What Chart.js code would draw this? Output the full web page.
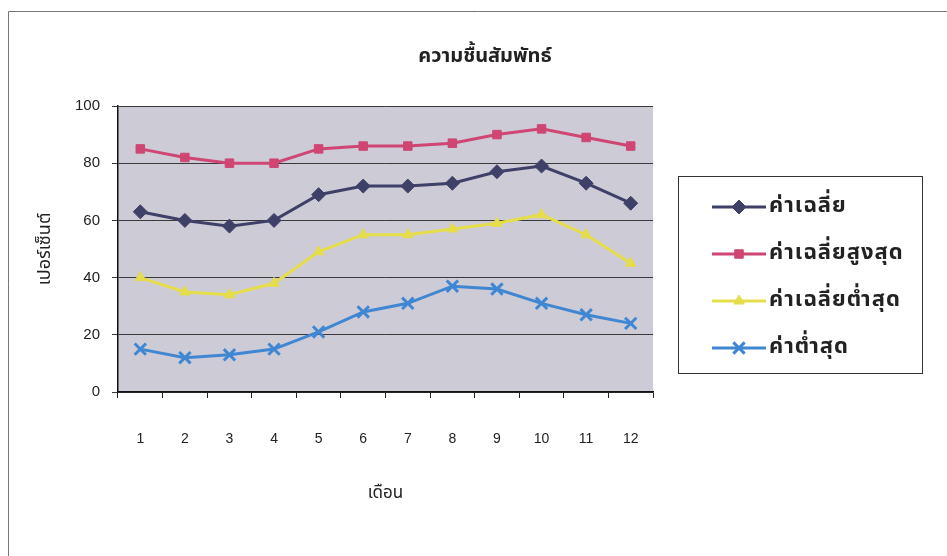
<!DOCTYPE html>
<html>
<head>
<meta charset="utf-8">
<script src="https://cdn.jsdelivr.net/npm/chart.js@4.4.1/dist/chart.umd.min.js"></script>
<style>
  html, body { margin: 0; padding: 0; background: #fff; }
  #wrap { width: 947px; height: 556px; }
</style>
</head>
<body>
<div id="wrap"><canvas id="chartCanvas" width="947" height="556"></canvas></div>
<script>
// --- Data ---
const months = ["1", "2", "3", "4", "5", "6", "7", "8", "9", "10", "11", "12"];
const avgValues    = [63, 60, 58, 60, 69, 72, 72, 73, 77, 79, 73, 66];
const maxAvgValues = [85, 82, 80, 80, 85, 86, 86, 87, 90, 92, 89, 86];
const minAvgValues = [40, 35, 34, 38, 49, 55, 55, 57, 59, 62, 55, 45];
const minValues    = [15, 12, 13, 15, 21, 28, 31, 37, 36, 31, 27, 24];
const seriesNames  = ["ค่าเฉลี่ย", "ค่าเฉลี่ยสูงสุด", "ค่าเฉลี่ยต่ำสุด", "ค่าต่ำสุด"];
const yTicks = [0, 20, 40, 60, 80, 100];

const chartTitle = "ความชื้นสัมพัทธ์";
const xTitle = "เดือน";
const yTitle = "เปอร์เซ็นต์";

const thaiFont = "'Noto Sans Thai', 'Noto Sans', 'DejaVu Sans', sans-serif";
const numFont = "'Liberation Sans', Arial, sans-serif";

const canvas = document.getElementById("chartCanvas");

function series(label, data, color, pointStyle, radius) {
  return {
    label,
    data,
    borderColor: color,
    backgroundColor: color,
    borderWidth: 3,
    pointStyle,
    pointRadius: radius,
    pointHoverRadius: radius,
    pointBorderWidth: pointStyle === "crossRot" ? 3 : 1,
    tension: 0
  };
}

// --- Plot background, frame, title and legend ---
const decorations = {
  id: "decorations",
  beforeDraw(chart) {
    const { ctx, chartArea: a } = chart;
    ctx.save();
    ctx.fillStyle = "#ffffff";
    ctx.fillRect(0, 0, chart.width, chart.height);
    // scan frame (left and top)
    ctx.strokeStyle = "#777";
    ctx.lineWidth = 1;
    ctx.beginPath();
    ctx.moveTo(8.5, 556);
    ctx.lineTo(8.5, 11.5);
    ctx.lineTo(947, 11.5);
    ctx.stroke();
    // plot area fill
    ctx.fillStyle = "#cdcbd6";
    ctx.fillRect(a.left, a.top, a.right - a.left, a.bottom - a.top);
    ctx.restore();
  },
  afterDraw(chart) {
    const { ctx } = chart;
    ctx.save();
    // title
    ctx.fillStyle = "#222";
    ctx.font = "bold 20px " + thaiFont;
    ctx.textAlign = "center";
    ctx.textBaseline = "middle";
    ctx.fillText(chartTitle, 485, 58);

    // legend box
    ctx.strokeStyle = "#333";
    ctx.lineWidth = 1;
    ctx.strokeRect(678.5, 176.5, 244, 197);
    ctx.font = "bold 22px " + thaiFont;
    ctx.letterSpacing = "1px";
    ctx.textAlign = "left";
    chart.data.datasets.forEach((ds, i) => {
      const y = 207 + i * 47;
      ctx.strokeStyle = ds.borderColor;
      ctx.fillStyle = ds.backgroundColor;
      ctx.lineWidth = 3;
      ctx.beginPath();
      ctx.moveTo(712, y);
      ctx.lineTo(766, y);
      ctx.stroke();
      ctx.lineWidth = ds.pointBorderWidth;
      Chart.helpers.drawPoint(ctx, {
        pointStyle: ds.pointStyle,
        radius: ds.pointRadius,
        borderWidth: ds.pointBorderWidth,
        rotation: 0
      }, 739, y);
      ctx.fillStyle = "#222";
      ctx.fillText(ds.label, 769, y + 1);
    });
    ctx.restore();
  }
};

new Chart(canvas, {
  type: "line",
  data: {
    labels: months,
    datasets: [
      series(seriesNames[0], avgValues, "#3f4068", "rectRot", 7),
      series(seriesNames[1], maxAvgValues, "#cf4673", "rect", 6),
      series(seriesNames[2], minAvgValues, "#e6dd4a", "triangle", 6),
      series(seriesNames[3], minValues, "#3f87d2", "crossRot", 8)
    ]
  },
  options: {
    responsive: false,
    animation: false,
    devicePixelRatio: 1,
    layout: { padding: { left: 36, right: 294, top: 106, bottom: 51 } },
    plugins: {
      legend: { display: false },
      title: { display: false },
      tooltip: { enabled: false }
    },
    scales: {
      x: {
        offset: true,
        grid: { display: true, offset: true, drawOnChartArea: false, drawTicks: true, tickLength: 6, color: "#222", lineWidth: 1 },
        border: { display: true, color: "#111", width: 1.5 },
        ticks: { color: "#222", font: { family: numFont, size: 14 }, padding: 33, maxRotation: 0 },
        title: { display: true, text: xTitle, color: "#222", font: { family: thaiFont, size: 17 }, padding: { top: 40, bottom: 0 } },
        afterFit(scale) { scale.height = 113; }
      },
      y: {
        min: 0,
        max: 100,
        afterBuildTicks(scale) { scale.ticks = yTicks.map(v => ({ value: v })); },
        grid: { color: "#3a3a3a", lineWidth: 1, tickLength: 6, drawTicks: true },
        border: { display: true, color: "#111", width: 1.5 },
        ticks: { color: "#222", font: { family: numFont, size: 15 }, padding: 12 },
        title: { display: true, text: yTitle, color: "#222", font: { family: thaiFont, size: 18 }, padding: { top: 0, bottom: 0 } },
        afterFit(scale) { scale.width = 82; }
      }
    }
  },
  plugins: [decorations]
});
</script>
</body>
</html>
